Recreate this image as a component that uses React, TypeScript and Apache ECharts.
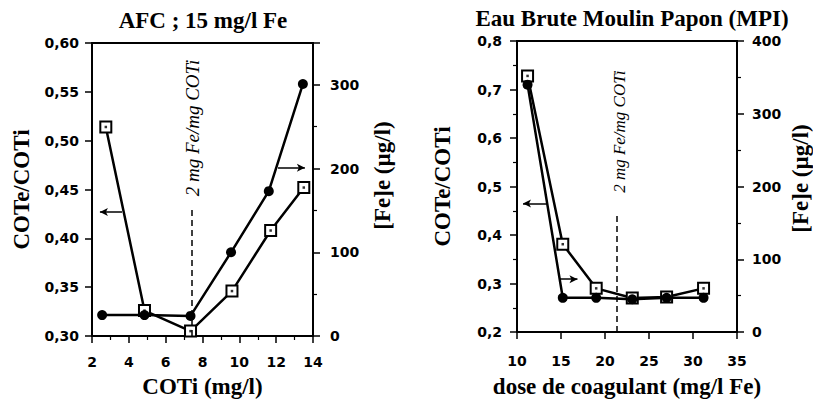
import React, { useEffect, useRef } from 'react';
import * as echarts from 'echarts';

// ---- Left panel: AFC ; 15 mg/l Fe ----
const afcTitle = 'AFC ; 15 mg/l Fe';
const afcXName = 'COTi (mg/l)';
const afcCotiSquares = [2.75, 4.85, 7.35, 9.6, 11.7, 13.5];
const afcRatio = [0.514, 0.326, 0.305, 0.346, 0.408, 0.452];
const afcCotiCircles = [2.55, 4.85, 7.35, 9.55, 11.6, 13.45];
const afcFe = [25, 25, 24, 100, 173, 301];
const afcThresholdX = 7.4;

// ---- Right panel: Eau Brute Moulin Papon (MPI) ----
const mpTitle = 'Eau Brute Moulin Papon (MPI)';
const mpXName = 'dose de coagulant (mg/l Fe)';
const mpDose = [11.2, 15.2, 19, 23.1, 27, 31.2];
const mpRatio = [0.728, 0.381, 0.29, 0.27, 0.272, 0.29];
const mpFe = [340, 47, 47, 45, 47, 47];
const mpThresholdX = 21.3;

const ratioName = 'COTe/COTi';
const feName = '[Fe]e (µg/l)';
const thresholdText = '2 mg Fe/mg COTi';

// axis ranges: [min, max, interval]
const afcXRange = [2, 14, 2];
const afcRatioRange = [0.3, 0.6, 0.05];
const afcFeRange = [0, 350, 100];
const mpXRange = [10, 35, 5];
const mpRatioRange = [0.2, 0.8, 0.1];
const mpFeRange = [0, 400, 100];

const serif = '"Liberation Serif", "Times New Roman", serif';
const sans = '"DejaVu Sans", sans-serif';
const nameSize = 23;

const zip = (xs: number[], ys: number[]) => xs.map((x, i) => [x, ys[i]]);
const comma = (d: number) => (v: number) => v.toFixed(d).replace('.', ',');

const labelBase = { color: '#000', fontFamily: sans, fontSize: 14, fontWeight: 'bold' };
const nameStyle = { color: '#000', fontFamily: serif, fontWeight: 'bold', fontSize: nameSize };

function axisBase(extra: any) {
  return {
    type: 'value',
    axisLine: { show: true, onZero: false, lineStyle: { color: '#000', width: 2 } },
    axisTick: { show: true, length: 7, lineStyle: { color: '#000', width: 1.5 } },
    minorTick: { show: false },
    splitLine: { show: false },
    nameLocation: 'middle',
    nameTextStyle: nameStyle,
    ...extra,
  };
}

const minor = { show: true, splitNumber: 2, length: 4, lineStyle: { color: '#000', width: 1.2 } };

const markLineBase = {
  silent: true,
  symbol: 'none',
  label: { show: false },
  lineStyle: { color: '#000', width: 1.5, type: 'solid' },
};

function dashed(x: number, y0: number, y1: number) {
  return [
    { coord: [x, y0], symbol: 'none', lineStyle: { type: [6, 4], width: 1.5, color: '#000' } },
    { coord: [x, y1], symbol: 'none' },
  ];
}
function arrow(tail: number[], head: number[]) {
  return [
    { coord: tail, symbol: 'none' },
    { coord: head, symbol: 'arrow', symbolSize: [6, 8] },
  ];
}

export default function App() {
  const ref = useRef<HTMLDivElement>(null);
  useEffect(() => {
    if (!ref.current) return;
    const chart = echarts.init(ref.current, undefined, { renderer: 'svg' });
    const squareStyle = { color: '#fff', borderColor: '#000', borderWidth: 2 };
    const option: any = {
      animation: false,
      backgroundColor: '#fff',
      title: [
        { text: afcTitle, left: 203, top: 9, textAlign: 'center', padding: 0, textStyle: nameStyle },
        { text: mpTitle, left: 632, top: 7, textAlign: 'center', padding: 0, textStyle: nameStyle },
      ],
      grid: [
        { left: 92, top: 43, width: 221, height: 295, show: true, borderColor: '#000', borderWidth: 2, backgroundColor: 'transparent' },
        { left: 517, top: 41, width: 223, height: 292, show: true, borderColor: '#000', borderWidth: 2, backgroundColor: 'transparent' },
      ],
      xAxis: [
        axisBase({ gridIndex: 0, min: afcXRange[0], max: afcXRange[1], interval: afcXRange[2],
          name: afcXName, nameGap: 39, minorTick: minor,
          axisLabel: { ...labelBase, margin: 19 } }),
        axisBase({ gridIndex: 1, min: mpXRange[0], max: mpXRange[1], interval: mpXRange[2],
          name: mpXName, nameGap: 43,
          axisLabel: { ...labelBase, margin: 22 } }),
      ],
      yAxis: [
        axisBase({ gridIndex: 0, position: 'left', min: afcRatioRange[0], max: afcRatioRange[1], interval: afcRatioRange[2],
          name: ratioName, nameGap: 59, nameRotate: 90,
          axisLabel: { ...labelBase, margin: 13, formatter: comma(2) } }),
        axisBase({ gridIndex: 0, position: 'right', min: afcFeRange[0], max: afcFeRange[1], interval: afcFeRange[2],
          name: feName, nameGap: 58, nameRotate: 90, minorTick: minor,
          nameTextStyle: { ...nameStyle, padding: [0, 0, 0, 28] },
          axisLabel: { ...labelBase, margin: 17, showMaxLabel: false,
            formatter: (v: number) => (v % 100 === 0 ? String(v) : '') } }),
        axisBase({ gridIndex: 1, position: 'left', min: mpRatioRange[0], max: mpRatioRange[1], interval: mpRatioRange[2],
          name: ratioName, nameGap: 63, nameRotate: 90, minorTick: minor,
          axisLabel: { ...labelBase, margin: 15, formatter: comma(1) } }),
        axisBase({ gridIndex: 1, position: 'right', min: mpFeRange[0], max: mpFeRange[1], interval: mpFeRange[2],
          name: feName, nameGap: 52, nameRotate: 90, minorTick: minor,
          nameTextStyle: { ...nameStyle, padding: [0, 0, 0, 16] },
          axisLabel: { ...labelBase, margin: 15 } }),
      ],
      series: [
        {
          type: 'line', xAxisIndex: 0, yAxisIndex: 0, data: zip(afcCotiSquares, afcRatio),
          symbol: 'rect', symbolSize: 11, z: 3,
          lineStyle: { color: '#000', width: 2.5 }, itemStyle: squareStyle,
          markLine: { ...markLineBase, data: [dashed(afcThresholdX, 0.3, 0.433), arrow([3.63, 0.427], [2.43, 0.427])] },
        },
        {
          type: 'scatter', xAxisIndex: 0, yAxisIndex: 0, data: zip(afcCotiSquares, afcRatio),
          symbol: 'rect', symbolSize: 2.5, itemStyle: { color: '#000' }, z: 5, silent: true,
        },
        {
          type: 'line', xAxisIndex: 0, yAxisIndex: 1, data: zip(afcCotiCircles, afcFe),
          symbol: 'circle', symbolSize: 10, z: 4,
          lineStyle: { color: '#000', width: 2.5 }, itemStyle: { color: '#000' },
          markLine: { ...markLineBase, data: [arrow([12.1, 201], [13.56, 201])] },
        },
        {
          type: 'line', xAxisIndex: 1, yAxisIndex: 2, data: zip(mpDose, mpRatio),
          symbol: 'rect', symbolSize: 11, z: 3,
          lineStyle: { color: '#000', width: 2.5 }, itemStyle: squareStyle,
          markLine: { ...markLineBase, data: [dashed(mpThresholdX, 0.2, 0.44), arrow([13.38, 0.465], [10.68, 0.465])] },
        },
        {
          type: 'scatter', xAxisIndex: 1, yAxisIndex: 2, data: zip(mpDose, mpRatio),
          symbol: 'rect', symbolSize: 2.5, itemStyle: { color: '#000' }, z: 5, silent: true,
        },
        {
          type: 'line', xAxisIndex: 1, yAxisIndex: 3, data: zip(mpDose, mpFe),
          symbol: 'circle', symbolSize: 10, z: 4,
          lineStyle: { color: '#000', width: 2.5 }, itemStyle: { color: '#000' },
          markLine: { ...markLineBase, data: [arrow([14.84, 72.6], [16.87, 72.6])] },
        },
      ],
    };
    chart.setOption(option);

    const p1 = chart.convertToPixel({ seriesIndex: 0 }, [afcThresholdX, 0.513]) as number[];
    const p2 = chart.convertToPixel({ seriesIndex: 3 }, [mpThresholdX, 0.613]) as number[];
    const textEl = (p: number[], dx: number, size: number) => ({
      type: 'text',
      x: p[0] + dx,
      y: p[1],
      rotation: Math.PI / 2,
      silent: true,
      style: {
        text: thresholdText,
        fontFamily: serif,
        fontStyle: 'italic',
        fontSize: size,
        fill: '#000',
        align: 'center',
        verticalAlign: 'middle',
        textAlign: 'center',
        textVerticalAlign: 'middle',
      },
    });
    chart.setOption({ graphic: [textEl(p1, 1.5, 19), textEl(p2, 3, 17)] });

    return () => chart.dispose();
  }, []);
  return (
    <div
      ref={ref}
      style={{ position: 'fixed', left: 0, top: 0, width: 813, height: 403, background: '#fff' }}
    />
  );
}
